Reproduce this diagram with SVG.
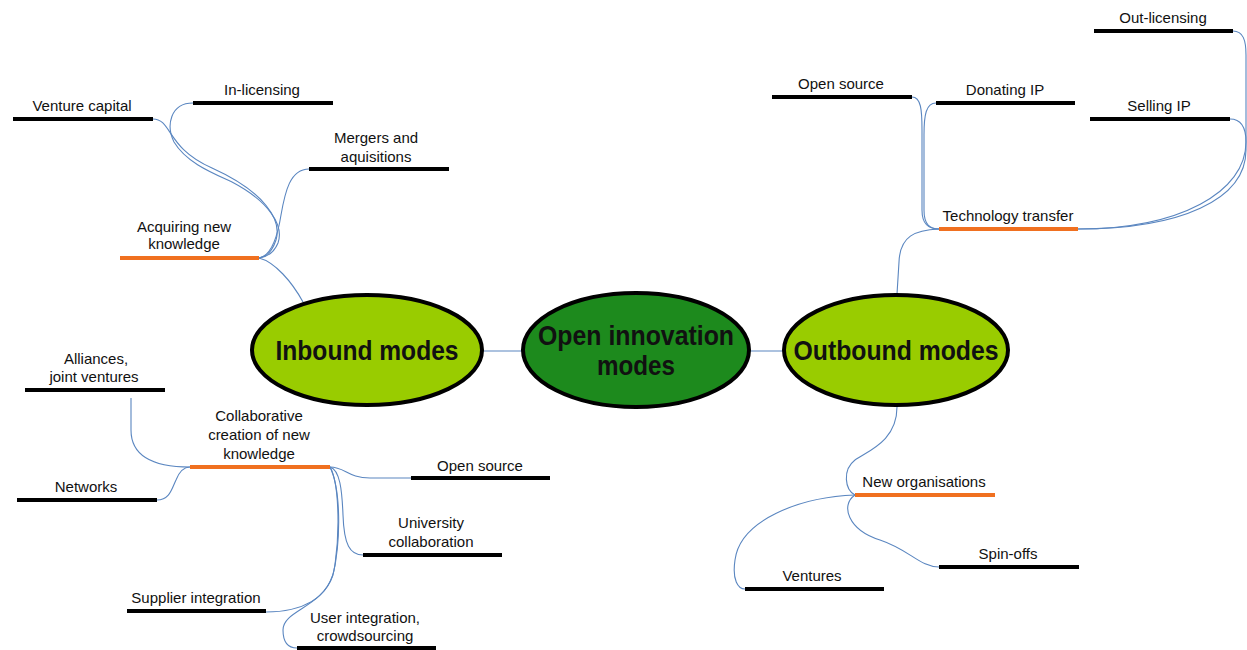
<svg xmlns="http://www.w3.org/2000/svg" width="1247" height="650" viewBox="0 0 1247 650">
<style>
.bg{fill:#ffffff}
.leaf{stroke:#000000;stroke-width:4;fill:none}
.mid{stroke:#f07020;stroke-width:4;fill:none}
.con{stroke:#5a86c0;stroke-width:1.1;fill:none}
.t{font-family:"Liberation Sans",Arial,sans-serif;font-size:15px;fill:#111111;text-anchor:middle}
.big{font-family:"Liberation Sans",Arial,sans-serif;font-weight:bold;font-size:28px;fill:#111111;text-anchor:middle}
.ell{stroke:#000000;stroke-width:4}
.light{fill:#99cc00}
.dark{fill:#1d8a1d}
</style>
<rect class="bg" x="0" y="0" width="1247" height="650"/>
<g id="connectors">
<path class="con" d="M483,351 L523,351"/>
<path class="con" d="M750,351 L784,351"/>
<path class="con" d="M259,258 C275,262 292,282 303,302"/>
<path class="con" d="M153,119 C172,119 166,148 212,168 C265,192 282,220 276,240 C272,252 266,257 259,258"/>
<path class="con" d="M193,103 C170,103 166,126 174,142 C186,162 210,172 232,182 C270,202 284,226 278,243 C274,253 266,257 259,258"/>
<path class="con" d="M309,169 C290,169 285,192 281,215 C277,240 270,256 259,258"/>
<path class="con" d="M939,229 C915,230 900,236 899,262 L897,294"/>
<path class="con" d="M912,97 C921,97 922,110 922,130 L922,210 C922,225 929,229 939,229"/>
<path class="con" d="M936,103 C926,103 924,115 924,135 L924,210 C924,225 930,229 939,229"/>
<path class="con" d="M1233,31 C1243,31 1246,40 1246,55 L1246,150 C1246,200 1180,229 1078,229"/>
<path class="con" d="M1230,119 C1240,119 1246,126 1246,142 C1246,192 1180,229 1078,229"/>
<path class="con" d="M131,398 L131,430 C131,460 160,467 190,467"/>
<path class="con" d="M157,500 C170,500 172,488 176,480 C180,470 185,467 190,467"/>
<path class="con" d="M330,467 C345,467 348,478 370,478 L411,478"/>
<path class="con" d="M330,467 C340,470 342,490 343,515 C344,545 350,555 363,555"/>
<path class="con" d="M330,467 C339,482 340,530 335,565 C330,600 300,612 266,612"/>
<path class="con" d="M330,467 C341,490 341,540 333,575 C322,608 283,610 283,630 C283,645 290,648 297,648"/>
<path class="con" d="M897,407 C897,440 870,450 855,460 C842,470 845,490 855,495"/>
<path class="con" d="M855,495 C840,505 848,530 880,540 C910,550 920,567 939,567"/>
<path class="con" d="M855,495 C800,497 740,520 735,560 C732,580 738,589 745,589"/>
</g>
<g id="inbound">
<ellipse class="ell light" cx="367" cy="350" rx="115" ry="55"/>
<text class="big" x="367" y="360" textLength="183" lengthAdjust="spacingAndGlyphs">Inbound modes</text>
</g>
<g id="center">
<ellipse class="ell dark" cx="636" cy="350" rx="113" ry="57"/>
<text class="big" x="636" y="345" textLength="196" lengthAdjust="spacingAndGlyphs">Open innovation</text>
<text class="big" x="636" y="375" textLength="78" lengthAdjust="spacingAndGlyphs">modes</text>
</g>
<g id="outbound">
<ellipse class="ell light" cx="896" cy="350" rx="112" ry="55"/>
<text class="big" x="896" y="360" textLength="205" lengthAdjust="spacingAndGlyphs">Outbound modes</text>
</g>
<g id="acquiring">
<line class="mid" x1="120" y1="258" x2="259" y2="258"/>
<text class="t" x="184" y="232">Acquiring new</text>
<text class="t" x="184" y="249">knowledge</text>
</g>
<g id="venture-capital">
<line class="leaf" x1="13" y1="119" x2="153" y2="119"/>
<text class="t" x="82" y="111">Venture capital</text>
</g>
<g id="in-licensing">
<line class="leaf" x1="193" y1="103" x2="333" y2="103"/>
<text class="t" x="262" y="95">In-licensing</text>
</g>
<g id="mergers">
<line class="leaf" x1="309" y1="169" x2="449" y2="169"/>
<text class="t" x="376" y="143">Mergers and</text>
<text class="t" x="376" y="162">aquisitions</text>
</g>
<g id="tech-transfer">
<line class="mid" x1="939" y1="229" x2="1078" y2="229"/>
<text class="t" x="1008" y="221">Technology transfer</text>
</g>
<g id="open-source-out">
<line class="leaf" x1="772" y1="97" x2="912" y2="97"/>
<text class="t" x="841" y="89">Open source</text>
</g>
<g id="donating-ip">
<line class="leaf" x1="936" y1="103" x2="1075" y2="103"/>
<text class="t" x="1005" y="95">Donating IP</text>
</g>
<g id="out-licensing">
<line class="leaf" x1="1094" y1="31" x2="1233" y2="31"/>
<text class="t" x="1163" y="23">Out-licensing</text>
</g>
<g id="selling-ip">
<line class="leaf" x1="1090" y1="119" x2="1230" y2="119"/>
<text class="t" x="1159" y="111">Selling IP</text>
</g>
<g id="collaborative">
<line class="mid" x1="190" y1="467" x2="330" y2="467"/>
<text class="t" x="259" y="421">Collaborative</text>
<text class="t" x="259" y="440">creation of new</text>
<text class="t" x="259" y="459">knowledge</text>
</g>
<g id="alliances">
<line class="leaf" x1="25" y1="390" x2="165" y2="390"/>
<text class="t" x="96" y="364">Alliances,</text>
<text class="t" x="94" y="382">joint ventures</text>
</g>
<g id="networks">
<line class="leaf" x1="17" y1="500" x2="157" y2="500"/>
<text class="t" x="86" y="492">Networks</text>
</g>
<g id="open-source-in">
<line class="leaf" x1="411" y1="478" x2="550" y2="478"/>
<text class="t" x="480" y="471">Open source</text>
</g>
<g id="university">
<line class="leaf" x1="363" y1="555" x2="502" y2="555"/>
<text class="t" x="431" y="528">University</text>
<text class="t" x="431" y="547">collaboration</text>
</g>
<g id="supplier">
<line class="leaf" x1="127" y1="611" x2="266" y2="611"/>
<text class="t" x="196" y="603">Supplier integration</text>
</g>
<g id="user">
<line class="leaf" x1="297" y1="648" x2="436" y2="648"/>
<text class="t" x="365" y="623">User integration,</text>
<text class="t" x="365" y="641">crowdsourcing</text>
</g>
<g id="new-organisations">
<line class="mid" x1="855" y1="495" x2="995" y2="495"/>
<text class="t" x="924" y="487">New organisations</text>
</g>
<g id="spin-offs">
<line class="leaf" x1="939" y1="567" x2="1079" y2="567"/>
<text class="t" x="1008" y="559">Spin-offs</text>
</g>
<g id="ventures">
<line class="leaf" x1="745" y1="589" x2="884" y2="589"/>
<text class="t" x="812" y="581">Ventures</text>
</g>
</svg>
